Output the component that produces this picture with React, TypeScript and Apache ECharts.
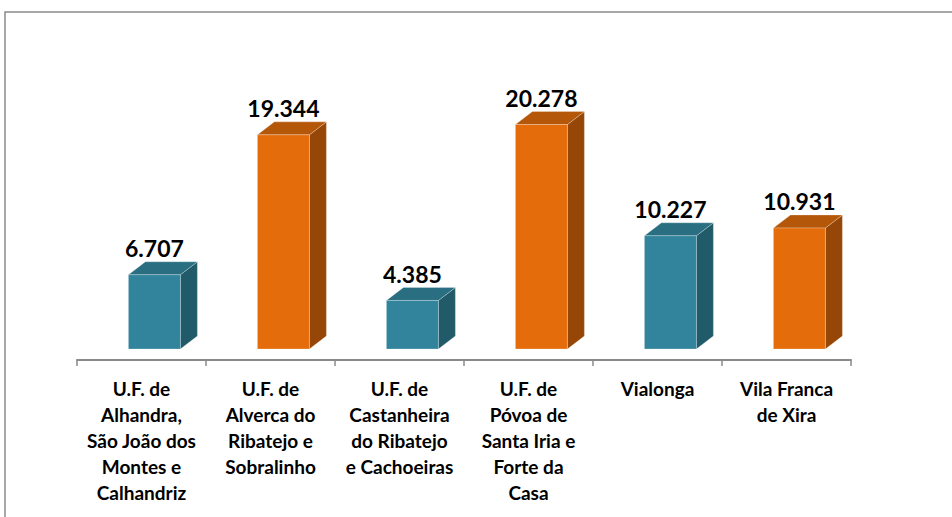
import React, { useEffect, useRef } from "react";
import * as echarts from "echarts";

const categories = [
  "U.F. de\nAlhandra,\nSão João dos\nMontes e\nCalhandriz",
  "U.F. de\nAlverca do\nRibatejo e\nSobralinho",
  "U.F. de\nCastanheira\ndo Ribatejo\ne Cachoeiras",
  "U.F. de\nPóvoa de\nSanta Iria e\nForte da\nCasa",
  "Vialonga",
  "Vila Franca\nde Xira",
];
const values = [6707, 19344, 4385, 20278, 10227, 10931];

const teal = { front: "#31849B", side: "#215A68", top: "#296F81" };
const orange = { front: "#E46C0A", side: "#964607", top: "#B45708" };
const palettes = [teal, orange, teal, orange, teal, orange];

const fmt = (v: number) => String(Math.round(v)).replace(/\B(?=(\d{3})+(?!\d))/g, ".");

export default function App() {
  const ref = useRef<HTMLDivElement>(null);
  useEffect(() => {
    const chart = echarts.init(ref.current!, null, { renderer: "svg" });
    const font = "Lato, 'Noto Sans', sans-serif";
    chart.setOption({
      animation: false,
      backgroundColor: "#ffffff",
      graphic: [
        {
          type: "rect",
          shape: { x: 5, y: 12, width: 980, height: 540 },
          style: { fill: "none", stroke: "#8a8a8a", lineWidth: 1.5 },
          silent: true,
        },
      ],
      grid: { left: 77, right: 952 - 851, top: 83.25, bottom: 517 - 360 },
      xAxis: {
        type: "category",
        data: categories,
        boundaryGap: true,
        axisLine: { show: true, lineStyle: { color: "#8a8a8a", width: 2 } },
        axisTick: { show: true, interval: 0, length: 6, lineStyle: { color: "#8a8a8a", width: 1.5 } },
        axisLabel: {
          interval: 0,
          margin: 15,
          color: "#000000",
          fontFamily: font,
          fontWeight: "bold",
          fontSize: 19,
          lineHeight: 26,
          align: "center",
        },
      },
      yAxis: {
        type: "value",
        min: 0,
        max: 25000,
        show: false,
        splitLine: { show: false },
      },
      series: [
        {
          type: "custom",
          data: values.map((v, i) => [i, v]),
          encode: { x: 0, y: 1 },
          renderItem: (params: any, api: any) => {
            const idx = api.value(0);
            const v = api.value(1);
            const base = api.coord([idx, 0]);
            const topP = api.coord([idx, v]);
            const band = api.size([1, 0])[0];
            const w = band * 0.403;
            const cx = base[0] + band * 0.1;
            const x0 = cx - w / 2;
            const x1 = cx + w / 2;
            const yb = base[1] - 11;
            const yt = topP[1] - 11;
            const dx = 17;
            const dy = 13;
            const p = palettes[idx];
            return {
              type: "group",
              children: [
                {
                  type: "polygon",
                  shape: { points: [[x1, yb], [x1, yt], [x1 + dx, yt - dy], [x1 + dx, yb - dy]] },
                  style: { fill: p.side, stroke: "rgba(255,255,255,0.25)", lineWidth: 1 },
                },
                {
                  type: "polygon",
                  shape: { points: [[x0, yt], [x1, yt], [x1 + dx, yt - dy], [x0 + dx, yt - dy]] },
                  style: { fill: p.top, stroke: "rgba(255,255,255,0.25)", lineWidth: 1 },
                },
                {
                  type: "rect",
                  shape: { x: x0, y: yt, width: w, height: yb - yt },
                  style: { fill: p.front, stroke: "rgba(255,255,255,0.25)", lineWidth: 1 },
                },
                {
                  type: "text",
                  x: cx,
                  y: yt - 26.5,
                  style: {
                    text: fmt(v),
                    fill: "#000000",
                    font: `bold 23px ${font}`,
                    align: "center",
                    verticalAlign: "middle",
                  },
                },
              ],
            };
          },
        },
      ],
    });
    return () => chart.dispose();
  }, []);
  return (
    <div
      ref={ref}
      style={{ position: "absolute", left: 0, top: 0, width: 952, height: 517 }}
    />
  );
}
